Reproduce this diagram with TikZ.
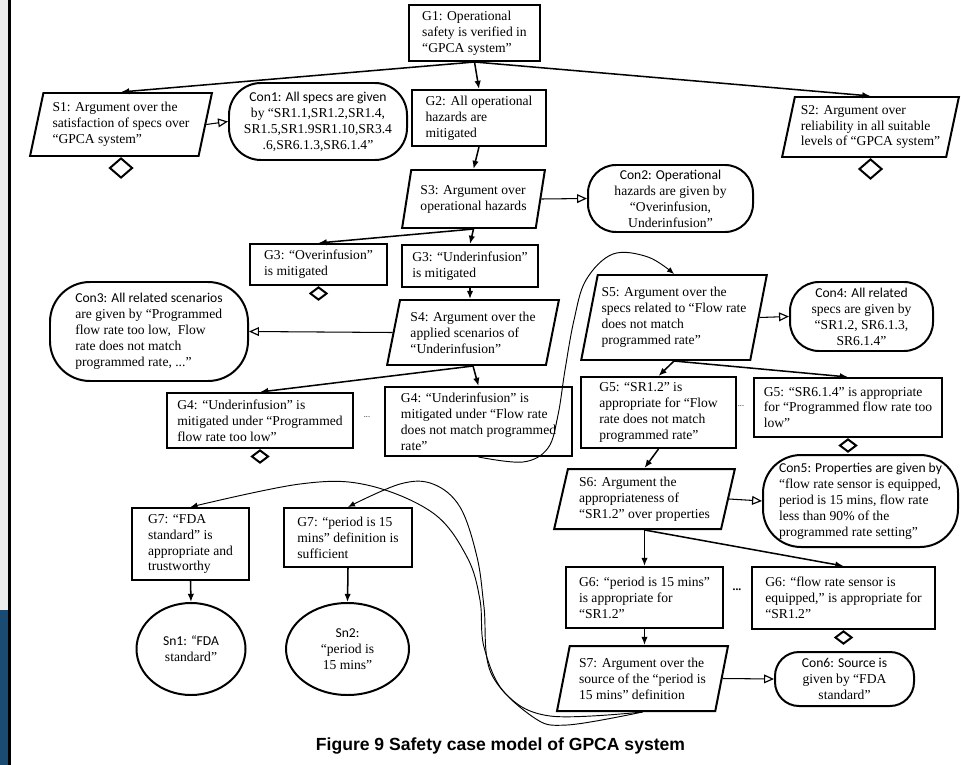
\documentclass[tikz,border=0pt]{standalone}
\usepackage{fontspec}
\setmainfont{Liberation Serif}
\newfontfamily\calib{Carlito}
\newfontfamily\capfont{Liberation Sans}
\usetikzlibrary{shapes.geometric,arrows.meta}
\definecolor{deepblue}{RGB}{25,75,115}
\tikzset{
  wh/.style 2 args={minimum width=#1*0.03cm, minimum height=#2*0.03cm},
  goal/.style={draw, line width=1.7pt, rectangle, align=left, inner sep=2pt},
  strategy/.style={draw, line width=1.7pt, trapezium, trapezium left angle=76, trapezium right angle=104, trapezium stretches=true, align=left, inner sep=2pt},
  context/.style={draw, line width=1.7pt, rectangle, rounded corners=#1, align=center, inner sep=1pt},
  solution/.style={draw, line width=1.7pt, ellipse, align=center, inner sep=0pt},
  undev/.style={draw, line width=1.7pt, diamond, inner sep=0pt, anchor=north},
  supported/.style={line width=1.3pt, -{Latex[length=7pt,width=5.5pt]}},
  incontext/.style={line width=0.9pt, -{Triangle[open,length=8.5pt,width=7.5pt,line width=1pt]}},
  farlink/.style={line width=0.8pt, -{Latex[length=6pt,width=5pt]}}
}

\begin{document}
\begin{tikzpicture}[x=0.03cm, y=-0.03cm, font=\fontsize{11.6}{13.6}\selectfont]
    \useasboundingbox (0,0) rectangle (961,765);

    % edge of the page beside
    \fill[gray!15] (0,0) rectangle (8,610);
    \fill[deepblue] (0,610) rectangle (8,765);
    \draw[line width=2.2pt] (9.5,0) -- (9.5,765);

    % top goal
    \node[goal, wh={131}{56}] (G1) at (474.5,33) {G1: Operational\\safety is verified in\\“GPCA system”};

    % first level
    \node[strategy, wh={182}{63}] (S1) at (121,124.5) {S1: Argument over the\\satisfaction of specs over\\“GPCA system”};
    \node[context=0.96cm, wh={178}{77}] (Con1) at (318,121.5) {\calib Con1: All specs are given\\by “SR1.1,SR1.2,SR1.4,\\SR1.5,SR1.9SR1.10,SR3.4\\.6,SR6.1.3,SR6.1.4”};
    \node[goal, wh={134}{56}] (G2) at (479,118) {G2: All operational\\hazards are\\mitigated};
    \node[strategy, wh={177}{60}] (S2) at (870.5,127) {S2: Argument over\\reliability in all suitable\\levels of “GPCA system”};
    \node[undev, minimum width=23*0.03cm, minimum height=20*0.03cm] (U1) at (S1.south) {};
    \node[undev, minimum width=23*0.03cm, minimum height=20*0.03cm] (U2) at (S2.south) {};

    % hazards
    \node[strategy, wh={143}{58}] (S3) at (473.5,199) {S3: Argument over\\operational hazards};
    \node[context=0.84cm, wh={165}{67}] (Con2) at (670.5,198.5) {\calib Con2: Operational\\hazards are given by\\“Overinfusion,\\Underinfusion”};
    \node[goal, wh={137}{41}] (G3a) at (318.5,264.5) {G3: “Overinfusion”\\is mitigated};
    \node[goal, wh={136}{42}] (G3b) at (470,266) {G3: “Underinfusion”\\is mitigated};
    \node[undev, minimum width=17*0.03cm, minimum height=13*0.03cm] (U3) at (G3a.south) {};

    % scenarios
    \node[strategy, wh={172}{65}] (S4) at (473,332.5) {S4: Argument over the\\applied scenarios of\\“Underinfusion”};
    \node[context=1.2cm, wh={198}{99}, align=left] (Con3) at (149,331.5) {\calib Con3: All related scenarios\\are given by “Programmed\\flow rate too low,\ \ Flow\\rate does not match\\programmed rate, ...”};
    \node[goal, wh={186}{55}] (G4a) at (260,420.5) {G4: “Underinfusion” is\\mitigated under “Programmed\\flow rate too low”};
    \node[goal, wh={187}{69}] (G4b) at (478.5,421.5) {G4: “Underinfusion” is\\mitigated under “Flow rate\\does not match programmed\\rate”};
    \node[undev, minimum width=17*0.03cm, minimum height=13*0.03cm] (U4) at (G4a.south) {};
    \node[font=\scriptsize] (d4) at (367,417) {...};

    % specs
    \node[strategy, wh={186}{85}] (S5) at (674,317.5) {S5: Argument over the\\specs related to “Flow rate\\does not match\\programmed rate”};
    \node[context=0.87cm, wh={143}{69}] (Con4) at (861.5,316.5) {\calib Con4: All related\\specs are given by\\\rmfamily “SR1.2, SR6.1.3,\\SR6.1.4”};
    \node[goal, wh={155}{71}] (G5a) at (658.5,412.5) {G5: “SR1.2” is\\appropriate for “Flow\\rate does not match\\programmed rate”};
    \node[goal, wh={188}{59}] (G5b) at (848,407.5) {G5: “SR6.1.4” is appropriate\\for “Programmed flow rate too\\low”};
    \node[undev, minimum width=17*0.03cm, minimum height=13*0.03cm] (U5) at (G5b.south) {};
    \node[font=\scriptsize] (d5) at (741,406) {...};

    % properties
    \node[strategy, wh={181}{60}] (S6) at (644.5,499) {S6: Argument the\\appropriateness of\\“SR1.2” over properties};
    \node[context=1.14cm, wh={195}{92}, align=left] (Con5) at (860.5,501) {\calib Con5: Properties are given by\\\rmfamily “flow rate sensor is equipped,\\period is 15 mins, flow rate\\less than 90\% of the\\programmed rate setting”};
    \node[goal, wh={157}{61}] (G6a) at (644.5,597.5) {G6: “period is 15 mins”\\is appropriate for\\“SR1.2”};
    \node[goal, wh={183}{62}] (G6b) at (843.5,598) {G6: “flow rate sensor is\\equipped,” is appropriate for\\“SR1.2”};
    \node[undev, minimum width=17*0.03cm, minimum height=13*0.03cm] (U6) at (G6b.south) {};
    \node[font=\bfseries] (d6) at (737,590) {...};

    % source
    \node[strategy, wh={171}{65}] (S7) at (642.5,678.5) {S7: Argument over the\\source of the “period is\\15 mins” definition};
    \node[context=0.72cm, wh={139}{54}] (Con6) at (844.5,679) {\calib Con6: Source is\\given by “FDA\\\rmfamily standard”};
    \node[goal, wh={117}{72}] (G7a) at (190.5,544) {G7: “FDA\\standard” is\\appropriate and\\trustworthy};
    \node[goal, wh={128}{59}] (G7b) at (348,537.5) {G7: “period is 15\\mins” definition is\\sufficient};
    \node[solution, wh={109}{92}] (Sn1) at (191,649) {\calib Sn1: “FDA\\standard”};
    \node[solution, wh={123}{92}] (Sn2) at (347.5,649) {\calib Sn2:\\\rmfamily “period is\\15 mins”};

    % caption
    \node[font=\capfont\bfseries\fontsize{15}{18}\selectfont] (cap) at (500.5,746) {Figure 9 Safety case model of GPCA system};

    % supported by
    \draw[supported] (G1.south) -- (S1.north);
    \draw[supported] (G1.south) -- (G2.north);
    \draw[supported] (G1.south) -- (S2.north);
    \draw[supported] (G2.south) -- (S3.north);
    \draw[supported] (S3.south) -- (G3a.north);
    \draw[supported] (S3.south) -- (G3b.north);
    \draw[supported] (G3b.south) -- (G3b.south |- S4.north);
    \draw[supported] (S4.south) -- (G4a.north);
    \draw[supported] (S4.south) -- (G4b.north);
    \draw[supported] (S5.south) -- (G5a.north);
    \draw[supported] (S5.south) -- (G5b.north);
    \draw[supported] (G5a.south) -- (S6.north);
    \draw[supported] (G6a.north |- S6.south) -- (G6a.north);
    \draw[supported] (S6.south) -- (G6b.north);
    \draw[supported] (G6a.south) -- (G6a.south |- S7.north);
    \draw[supported] (G7a.south) -- (Sn1.north);
    \draw[supported] (G7b.south) -- (Sn2.north);

    % in context of
    \draw[incontext] (S1.east) -- (Con1.west);
    \draw[incontext] (S3.east) -- (Con2.west);
    \draw[incontext] (S4.west) -- (Con3.east);
    \draw[incontext] (S5.east) -- (Con4.west);
    \draw[incontext] (S6.east) -- (Con5.west);
    \draw[incontext] (S7.east) -- (Con6.west);

    % long curved links
    \draw[farlink] plot[smooth, tension=0.6] coordinates {(G4b.south) (523,462) (548,448) (558,415) (565,370) (574,320) (586,280) (613,254) (648,257) (S5.north)};
    \draw[farlink] plot[smooth, tension=0.6] coordinates {(S7.south) (550,716) (505,693) (484,647) (480,600) (467,557) (433,513) (367,485) (300,484) (G7a.north)};
    \draw[farlink] plot[smooth, tension=0.6] coordinates {(S7.south) (567,725) (533,717) (491,673) (484,607) (477,557) (460,507) (433,484) (400,484) (G7b.north)};
\end{tikzpicture}
\end{document}
